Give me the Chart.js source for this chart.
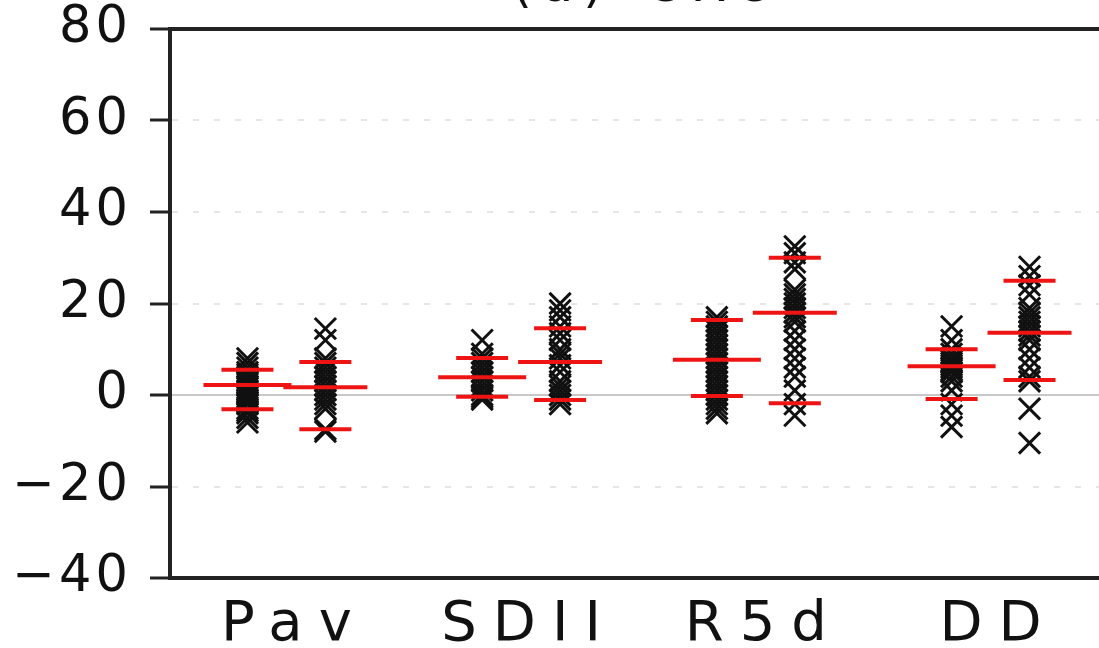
<!DOCTYPE html>
<html lang="en">
<head>
<meta charset="UTF-8">
<title>Index changes</title>
<script src="https://cdn.jsdelivr.net/npm/chart.js"></script>
<style>
  html, body { margin: 0; padding: 0; background: #fff; overflow: hidden; }
  #wrap { width: 1099px; height: 648px; }
</style>
</head>
<body>
<div id="wrap"><canvas id="chart"></canvas></div>
<script>
var categories = ['Pav', 'SDII', 'R5d', 'DD'];
var yTicks = [-40, -20, 0, 20, 40, 60, 80];

// left column of each pair: one value per model
var leftPav  = [8, 7, 6, 5, 4.5, 4, 3, 2.5, 2, 1.5, 1, 0.5, 0, -0.5, -1, -1.5, -2, -3, -3.5, -4, -5, -6];
var leftSDII = [12, 9, 8, 7, 6, 5, 4, 3, 2, 1, 0, -0.5, -1];
var leftR5d  = [17, 16, 15, 14, 13, 12, 11, 10, 9, 8, 7, 6, 5, 4, 3, 2, 1, 0, -1, -2, -3, -4];
var leftDD   = [15, 12, 10, 9, 8, 7.5, 7, 6.5, 6, 5.5, 5, 4, 3, 1, -2, -4.5, -7];
var leftMean  = [2.2, 3.9, 7.7, 6.3];
var leftUpper = [5.5, 8.1, 16.4, 10];
var leftLower = [-3.1, -0.4, -0.2, -0.9];

// right column of each pair
var rightPav  = [14.5, 12, 8, 7, 6, 5, 4, 3, 2, 1, 0, -1, -2, -3, -7.5, -8];
var rightSDII = [20, 18.5, 17, 15, 13.5, 12, 10, 9, 8, 6.5, 5, 3, 2, 1, 0, -1, -2];
var rightR5d  = [32.5, 31, 29, 27.5, 23, 22, 21, 20, 19, 18, 17, 16, 14, 12, 10, 8, 6, 4, 1, -2, -4.5];
var rightDD   = [28, 26, 24, 22, 19, 18, 17, 16, 15, 14, 13, 12, 10, 8, 6, 4, 3, -3, -10.5];
var rightMean  = [1.7, 7.2, 18, 13.6];
var rightUpper = [7.2, 14.6, 30, 25];
var rightLower = [-7.5, -1.1, -1.8, 3.3];

var leftPoints = [leftPav, leftSDII, leftR5d, leftDD];
var rightPoints = [rightPav, rightSDII, rightR5d, rightDD];

var shift = 0.166;
var RED = '#ee1414';

function spread(groups, off) {
  var out = [];
  groups.forEach(function (vals, i) {
    vals.forEach(function (v) { out.push({ x: i + 1 + off, y: v }); });
  });
  return out;
}
function bars(vals, off) {
  return vals.map(function (v, i) { return { x: i + 1 + off, y: v }; });
}
function redSet(data, half) {
  return {
    type: 'scatter', data: data, pointStyle: 'line', pointRadius: half,
    borderColor: RED, pointBorderColor: RED, borderWidth: 4, pointBorderWidth: 4
  };
}
function crossSet(data) {
  return {
    type: 'scatter', data: data, pointStyle: 'crossRot', pointRadius: 15,
    borderColor: '#111', pointBorderColor: '#111', borderWidth: 3, pointBorderWidth: 3
  };
}

var extras = {
  id: 'extras',
  beforeDraw: function (chart) {
    var xs = chart.scales.x, ys = chart.scales.y;
    if (!xs._spaced) {
      var ox = xs.drawLabels;
      xs.drawLabels = function (a) {
        var c = this.ctx; c.save(); c.letterSpacing = '16px'; c.translate(8, 14);
        ox.call(this, a); c.restore();
      };
      xs._spaced = true;
    }
    if (!ys._spaced) {
      var oy = ys.drawLabels;
      ys.drawLabels = function (a) {
        var c = this.ctx; c.save(); c.letterSpacing = '4px'; c.translate(-18, 0);
        oy.call(this, a); c.restore();
      };
      ys._spaced = true;
    }
  },
  afterDraw: function (chart) {
    var c = chart.ctx, a = chart.chartArea;
    c.save();
    c.strokeStyle = '#222';
    c.lineWidth = 4;
    c.beginPath();
    c.moveTo(a.left - 2, a.top);
    c.lineTo(a.right, a.top);
    c.stroke();
    // title, mostly outside the cropped picture
    c.fillStyle = '#111';
    c.font = '51px "DejaVu Sans"';
    c.letterSpacing = '10px';
    c.textBaseline = 'alphabetic';
    c.textAlign = 'left';
    c.fillText('(a)', 512, 1);
    c.fillText('CRU', 645, 1);
    c.restore();
  }
};

new Chart(document.getElementById('chart'), {
  type: 'scatter',
  data: {
    datasets: [
      redSet(bars(leftMean, -shift), 44),
      redSet(bars(rightMean, shift), 42),
      redSet(bars(leftUpper, -shift), 26),
      redSet(bars(leftLower, -shift), 26),
      redSet(bars(rightUpper, shift), 26),
      redSet(bars(rightLower, shift), 26),
      crossSet(spread(leftPoints, -shift)),
      crossSet(spread(rightPoints, shift))
    ]
  },
  options: {
    responsive: true,
    maintainAspectRatio: false,
    animation: false,
    events: [],
    layout: { autoPadding: false, padding: { top: 29, right: 0, bottom: 0, left: 0 } },
    plugins: { legend: { display: false }, tooltip: { enabled: false } },
    scales: {
      x: {
        type: 'linear',
        min: 0.504,
        max: 4.462,
        afterBuildTicks: function (s) {
          s.ticks = categories.map(function (c, i) { return { value: i + 1 }; });
        },
        afterFit: function (s) { s.height = 70; },
        ticks: {
          autoSkip: false,
          maxRotation: 0,
          padding: 0,
          color: '#111',
          font: { family: 'DejaVu Sans', size: 56, lineHeight: 1.2 },
          callback: function (v) { return categories[Math.round(v) - 1]; }
        },
        grid: { display: false, drawTicks: false },
        border: { display: true, color: '#222', width: 4 }
      },
      y: {
        min: -40,
        max: 80,
        afterBuildTicks: function (s) {
          s.ticks = yTicks.map(function (v) { return { value: v }; });
        },
        afterFit: function (s) { s.width = 170; },
        ticks: {
          padding: 0,
          color: '#111',
          font: { family: 'DejaVu Sans', size: 51, lineHeight: 1 },
          callback: function (v) { return v < 0 ? '\u2212' + Math.abs(v) : String(v); }
        },
        grid: {
          lineWidth: 2,
          tickLength: 20,
          tickWidth: 3,
          tickColor: '#222',
          color: function (ctx) {
            var v = ctx.tick.value;
            if (v === 0) return '#c8c8c8';
            if (v === -40 || v === 80) return 'rgba(0,0,0,0)';
            return '#e6e6e6';
          }
        },
        border: {
          display: true, color: '#222', width: 4,
          dash: function (ctx) { return ctx.tick && ctx.tick.value === 0 ? [] : [6, 15]; }
        }
      }
    }
  },
  plugins: [extras]
});
</script>
</body>
</html>
